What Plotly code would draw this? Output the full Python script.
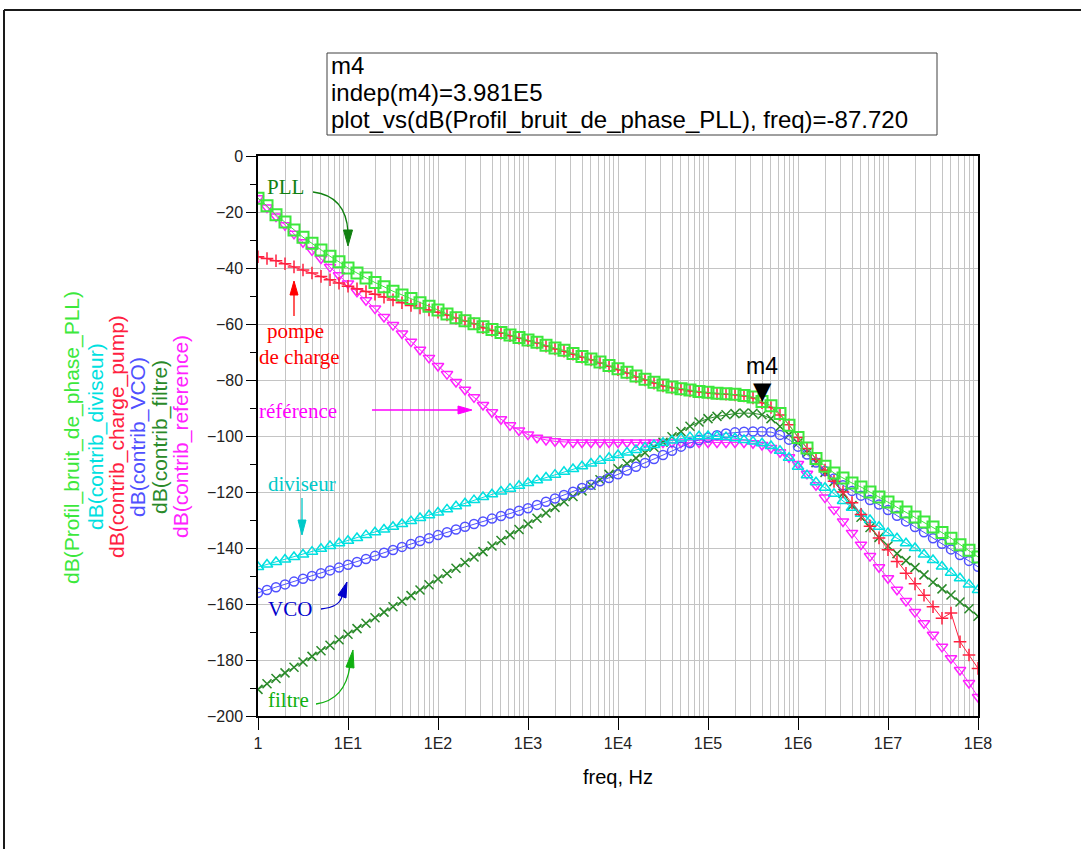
import numpy as np
import plotly.graph_objects as go

# ADS sweep: 10 points per decade, 1 Hz .. 100 MHz
freq = np.logspace(0, 8, 81).tolist()

pll = [
    -15.1, -17.8, -21.0, -23.6, -26.4, -29.0, -31.2, -33.6, -35.8, -37.8,
    -40.0, -41.8, -43.6, -45.2, -46.7, -48.3, -49.6, -50.9, -52.4, -53.7,
    -55.0, -56.4, -57.8, -58.8, -59.9, -61.0, -62.0, -63.0, -63.9, -64.8,
    -65.7, -66.5, -67.6, -68.6, -69.4, -70.5, -71.6, -72.5, -73.6, -74.8,
    -76.0, -77.2, -78.6, -79.7, -80.8, -81.8, -82.5, -83.1, -83.6, -84.1,
    -84.4, -84.7, -84.9, -85.1, -85.5, -86.1, -87.7, -89.2, -92.0, -96.2,
    -100.5, -104.3, -108.0, -110.8, -113.2, -115.0, -116.8, -118.2, -120.0, -121.8,
    -123.6, -125.4, -127.1, -128.9, -130.7, -132.5, -134.5, -136.5, -138.8, -140.8,
    -143.2,
]

diviseur = [
    -146.8, -145.9, -145.0, -144.1, -143.2, -142.3, -141.3, -140.3, -139.3, -138.3,
    -137.4, -136.4, -135.4, -134.4, -133.4, -132.4, -131.4, -130.4, -129.3, -128.3,
    -127.3, -126.2, -125.1, -124.0, -122.9, -121.8, -120.8, -119.8, -118.8, -117.8,
    -116.8, -115.8, -114.8, -113.8, -112.8, -111.8, -110.8, -109.8, -108.8, -107.8,
    -106.8, -105.9, -105.0, -104.1, -103.2, -102.4, -101.6, -100.9, -100.4, -100.1,
    -100.0, -100.1, -100.4, -100.8, -101.4, -102.0, -102.6, -103.6, -105.3, -107.8,
    -111.0, -114.0, -116.5, -118.5, -120.6, -123.2, -125.6, -127.8, -130.0, -132.4,
    -134.6, -136.5, -138.3, -140.0, -142.3, -144.3, -146.6, -148.8, -150.8, -153.0,
    -155.0,
]

charge_pump = [
    -36.0, -36.6, -37.4, -38.5, -39.6, -40.7, -41.8, -43.0, -44.2, -45.4,
    -46.5, -47.4, -48.4, -49.4, -50.4, -51.4, -52.4, -53.4, -54.3, -55.0,
    -55.8, -56.8, -57.9, -58.9, -59.9, -61.3, -62.3, -63.3, -64.2, -65.1,
    -66.0, -66.8, -67.9, -68.9, -69.7, -70.8, -71.9, -72.8, -73.9, -75.1,
    -76.3, -77.5, -78.9, -80.0, -81.1, -82.1, -82.8, -83.4, -83.9, -84.3,
    -84.6, -84.9, -85.1, -85.3, -85.7, -86.4, -88.1, -89.8, -92.5, -96.0,
    -100.5, -104.5, -108.3, -112.2, -116.2, -120.0, -123.8, -128.0, -132.2, -136.4,
    -140.6, -144.8, -149.0, -152.8, -156.9, -161.0, -165.1, -163.2, -173.5, -178.2,
    -183.0,
]

vco = [
    -156.0, -155.0, -154.0, -153.0, -152.0, -151.0, -150.0, -149.0, -148.0, -147.0,
    -146.0, -145.0, -143.9, -142.8, -141.7, -140.7, -139.6, -138.6, -137.5, -136.5,
    -135.4, -134.4, -133.4, -132.4, -131.4, -130.5, -129.5, -128.6, -127.7, -126.7,
    -125.8, -124.6, -123.5, -122.3, -121.1, -119.9, -118.6, -117.4, -116.2, -115.0,
    -113.7, -112.3, -111.0, -109.6, -108.2, -106.8, -105.3, -103.8, -102.5, -101.4,
    -100.5, -99.7, -99.1, -98.7, -98.5, -98.4, -98.4, -98.6, -99.6, -101.3,
    -103.8, -106.6, -109.5, -112.5, -115.2, -117.6, -119.6, -121.3, -122.9, -124.5,
    -126.4, -128.5, -130.5, -132.5, -134.4, -136.5, -138.5, -140.5, -142.5, -144.6,
    -146.7,
]

filtre = [
    -190.5, -188.5, -186.6, -184.6, -182.6, -180.7, -178.7, -176.7, -174.7, -172.8,
    -170.8, -168.8, -166.9, -164.9, -162.9, -161.0, -159.0, -157.0, -155.0, -153.1,
    -151.1, -149.1, -147.2, -145.2, -143.2, -141.3, -139.3, -137.3, -135.3, -133.4,
    -131.4, -129.4, -127.5, -125.5, -123.5, -121.6, -119.6, -117.6, -115.6, -113.7,
    -111.7, -109.8, -107.9, -106.0, -104.0, -102.2, -100.3, -98.4, -96.5, -95.0,
    -93.8, -93.0, -92.4, -92.0, -91.8, -91.9, -92.4, -93.8, -96.6, -99.5,
    -102.5, -106.0, -109.5, -113.0, -116.3, -120.5, -124.8, -129.0, -132.7, -136.2,
    -139.3, -142.0, -144.5, -147.0, -149.6, -152.2, -154.6, -156.8, -159.3, -161.7,
    -164.4,
]

reference = [
    -15.1, -18.4, -21.6, -24.7, -27.8, -30.8, -33.7, -36.6, -39.6, -42.6,
    -45.5, -48.5, -51.5, -54.5, -57.5, -60.4, -63.4, -66.3, -69.2, -72.1,
    -75.0, -77.9, -80.7, -83.5, -86.2, -88.9, -91.5, -94.0, -96.2, -98.0,
    -99.5, -100.6, -101.4, -101.9, -102.2, -102.3, -102.3, -102.3, -102.3, -102.3,
    -102.3, -102.3, -102.3, -102.3, -102.3, -102.3, -102.3, -102.3, -102.3, -102.3,
    -102.3, -102.3, -102.3, -102.3, -102.3, -102.6, -103.2, -104.3, -105.8, -107.6,
    -110.0, -113.5, -117.6, -122.0, -126.3, -130.5, -134.6, -138.8, -142.9, -146.9,
    -150.8, -154.9, -158.9, -162.9, -166.9, -171.0, -175.3, -179.4, -183.6, -188.2,
    -193.2,
]

m4_freq = 3.981e5
m4_val = -87.720

x_tickvals = [1, 1e1, 1e2, 1e3, 1e4, 1e5, 1e6, 1e7, 1e8]
x_ticktext = ["1", "1E1", "1E2", "1E3", "1E4", "1E5", "1E6", "1E7", "1E8"]

SANS = "Liberation Sans, Arial, sans-serif"
SERIF = "Liberation Serif, Times New Roman, serif"

# plot area in pixels
X0, X1, Y0, Y1 = 258, 978, 156, 716
W, H = 1081, 849


def paper(x, y):
    return (x - X0) / (X1 - X0), (Y1 - y) / (Y1 - Y0)


def path_str(cmds):
    out = []
    for c, pts in cmds:
        coords = " ".join("%.5f,%.5f" % paper(*p) for p in pts)
        out.append(c + coords)
    return " ".join(out)


fig = go.Figure()

series = [
    ("dB(contrib_reference)", reference, "#ff22ff", "triangle-down-open", 10),
    ("dB(contrib_filtre)", filtre, "#2a8a2a", "x-thin-open", 9),
    ("dB(contrib_VCO)", vco, "#5050ff", "circle-open", 9),
    ("dB(contrib_diviseur)", diviseur, "#00e0e0", "triangle-up-open", 10),
    ("dB(contrib_charge_pump)", charge_pump, "#ff2040", "cross-thin-open", 9),
    ("dB(Profil_bruit_de_phase_PLL)", pll, "#3ce83c", "square-open", 11),
]

for name, vals, color, symbol, size in series:
    fig.add_trace(
        go.Scatter(
            x=freq,
            y=vals,
            name=name,
            mode="lines+markers",
            line=dict(color=color, width=1),
            marker=dict(symbol=symbol, size=size, color=color,
                        line=dict(color=color, width=2 if symbol == "square-open" else 1.5)),
            showlegend=False,
        )
    )

shapes = []

# outer frame (top and left edges)
fx0, fy0 = paper(4, 10)
fx1, fy1 = paper(W, H)
shapes.append(dict(type="line", xref="paper", yref="paper", x0=fx0, y0=fy0, x1=fx1, y1=fy0,
                   line=dict(color="#1a1a1a", width=2)))
shapes.append(dict(type="line", xref="paper", yref="paper", x0=fx0, y0=fy0, x1=fx0, y1=fy1,
                   line=dict(color="#1a1a1a", width=2)))

# marker readout box
bx0, by0 = paper(327, 135)
bx1, by1 = paper(937, 53)
shapes.append(dict(type="rect", xref="paper", yref="paper", x0=bx0, y0=by0, x1=bx1, y1=by1,
                   line=dict(color="#404040", width=1), fillcolor="white"))

# arrows pointing at the curves
arrows = [
    ("#108010", [("M", [(313, 192)]), ("Q", [(346, 196), (348, 232)])],
     [(348, 246), (343.5, 230), (352.5, 230)]),
    ("#ff0000", [("M", [(294, 316)]), ("L", [(294, 294)])],
     [(294, 281), (290, 295), (298, 295)]),
    ("#ff00ff", [("M", [(372, 410)]), ("L", [(458, 410)])],
     [(472, 410), (458, 406), (458, 414)]),
    ("#00c8c8", [("M", [(302, 498)]), ("L", [(302, 521)])],
     [(302, 535), (298, 520), (306, 520)]),
    ("#0000cc", [("M", [(321, 609)]), ("Q", [(340, 607), (342, 596)])],
     [(347, 582), (338, 595), (346, 598)]),
    ("#10b010", [("M", [(316, 704)]), ("Q", [(345, 700), (350, 666)])],
     [(353, 650), (346, 667), (354, 668)]),
]
for color, body, head in arrows:
    shapes.append(dict(type="path", xref="paper", yref="paper", path=path_str(body),
                       line=dict(color=color, width=1.3)))
    shapes.append(dict(type="path", xref="paper", yref="paper",
                       path=path_str([("M", [head[0]]), ("L", [head[1]]), ("L", [head[2]])]) + " Z",
                       fillcolor=color, line=dict(color=color, width=1)))

annotations = []


def label(xp, yp, text, color, size, family, xanchor="center", angle=0):
    ax, ay = paper(xp, yp)
    annotations.append(dict(x=ax, y=ay, xref="paper", yref="paper", text=text,
                            showarrow=False, xanchor=xanchor, yanchor="middle",
                            textangle=angle, font=dict(color=color, size=size, family=family)))


# readout text
label(329, 66, "m4", "black", 24, SANS, xanchor="left")
label(329, 92.5, "indep(m4)=3.981E5", "black", 24, SANS, xanchor="left")
label(329, 119, "plot_vs(dB(Profil_bruit_de_phase_PLL), freq)=-87.720", "black", 24, SANS,
      xanchor="left")

# curve labels
label(285, 187, "PLL", "#108010", 21, SERIF)
label(295, 331, "pompe", "#ff0000", 21, SERIF)
label(299, 357, "de charge", "#ff0000", 21, SERIF)
label(257, 411, "référence", "#ff00ff", 21, SERIF, xanchor="left")
label(302, 484, "diviseur", "#00c8c8", 21, SERIF)
label(290, 609, "VCO", "#0000cc", 21, SERIF)
label(288, 700, "filtre", "#10b010", 21, SERIF)

# stacked y-axis titles
ytitles = [
    (72, "dB(Profil_bruit_de_phase_PLL)", "#3ce83c"),
    (96, "dB(contrib_diviseur)", "#00e0e0"),
    (117, "dB(contrib_charge_pump)", "#ff2040"),
    (138, "dB(contrib_VCO)", "#5050ff"),
    (160, "dB(contrib_filtre)", "#2a8a2a"),
    (181, "dB(contrib_reference)", "#ff22ff"),
]
for xp, text, color in ytitles:
    label(xp, 437, text, color, 21, SANS, angle=-90)

# x-axis title
label(618, 777, "freq, Hz", "black", 20, SANS)

# m4 marker
annotations.append(dict(x=np.log10(m4_freq), y=m4_val, xref="x", yref="y", text="▼",
                        showarrow=False, yanchor="bottom", yshift=-5,
                        font=dict(color="black", size=24, family="DejaVu Sans")))
annotations.append(dict(x=np.log10(m4_freq), y=m4_val, xref="x", yref="y", text="m4",
                        showarrow=False, yanchor="middle", yshift=36,
                        font=dict(color="black", size=23, family=SANS)))

fig.update_xaxes(
    type="log",
    range=[0, 8],
    tickvals=x_tickvals,
    ticktext=x_ticktext,
    ticks="outside",
    ticklen=12,
    tickcolor="black",
    showgrid=True,
    gridcolor="#c4c4c4",
    gridwidth=1,
    minor=dict(dtick="D1", showgrid=True, gridcolor="#c4c4c4", gridwidth=1, ticks=""),
    showline=True,
    linecolor="black",
    linewidth=1.5,
    mirror=True,
    zeroline=False,
    tickfont=dict(family=SANS, size=16, color="#222222"),
)
fig.update_yaxes(
    range=[-200, 0],
    dtick=20,
    ticks="outside",
    ticklen=10,
    tickcolor="black",
    minor=dict(dtick=10, ticks="outside", ticklen=6, tickcolor="black", showgrid=False),
    showgrid=True,
    gridcolor="#c4c4c4",
    gridwidth=1,
    showline=True,
    linecolor="black",
    linewidth=1.5,
    mirror=True,
    zeroline=False,
    tickfont=dict(family=SANS, size=16, color="#222222"),
)

fig.update_layout(
    width=W,
    height=H,
    margin=dict(l=X0, r=W - X1, t=Y0, b=H - Y1),
    paper_bgcolor="white",
    plot_bgcolor="white",
    showlegend=False,
    shapes=shapes,
    annotations=annotations,
)

# drop the browser's default 8px body margin so the figure sits at the page origin
fig.write_html("out.html", config={"displayModeBar": False},
               post_script="document.body.style.margin='0px';")
